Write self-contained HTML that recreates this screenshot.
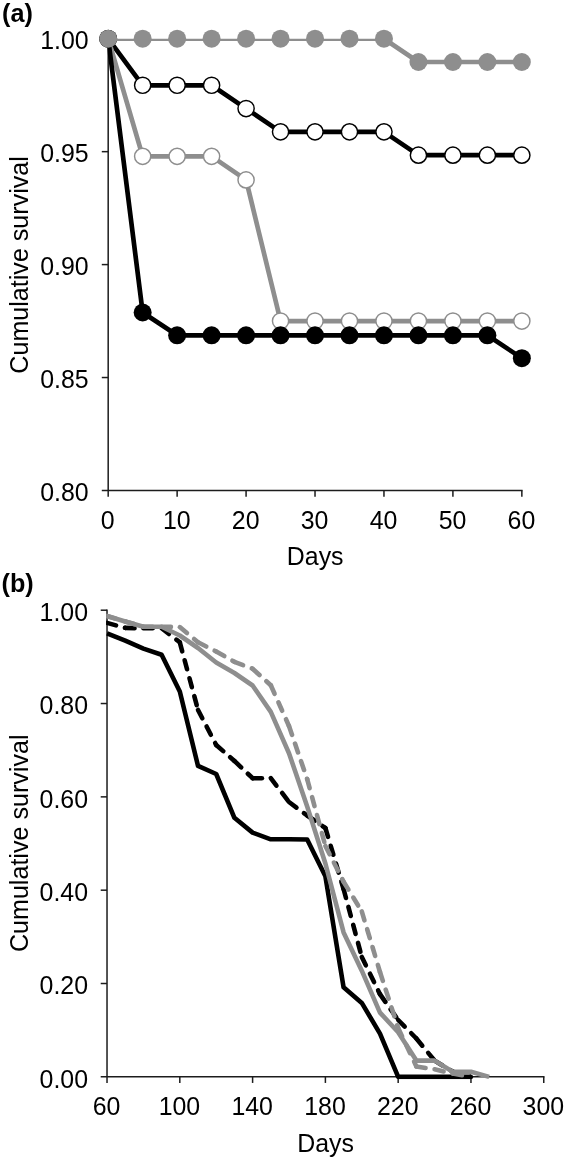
<!DOCTYPE html>
<html><head><meta charset="utf-8"><title>Cumulative survival</title>
<style>html,body{margin:0;padding:0;background:#fff;}svg{display:block;filter:grayscale(1);}text{font-family:"Liberation Sans",sans-serif;fill:#000;}</style></head><body>
<svg width="566" height="1161" viewBox="0 0 566 1161">
<rect width="566" height="1161" fill="#fff"/>
<defs><clipPath id="clipA"><rect x="107.39" y="38.72" width="470" height="470"/></clipPath>
<clipPath id="clipB"><rect x="106.12" y="605.20" width="470" height="474.04"/></clipPath></defs>
<g stroke="#1c1c1c" stroke-width="1.5" fill="none">
<line x1="108.19" y1="38.72" x2="108.19" y2="496.67"/>
<line x1="101.79" y1="490.47" x2="522.60" y2="490.47"/>
<line x1="101.79" y1="151.66" x2="108.19" y2="151.66"/>
<line x1="101.79" y1="264.59" x2="108.19" y2="264.59"/>
<line x1="101.79" y1="377.53" x2="108.19" y2="377.53"/>
<line x1="177.13" y1="490.47" x2="177.13" y2="496.67"/>
<line x1="246.08" y1="490.47" x2="246.08" y2="496.67"/>
<line x1="315.02" y1="490.47" x2="315.02" y2="496.67"/>
<line x1="383.96" y1="490.47" x2="383.96" y2="496.67"/>
<line x1="452.91" y1="490.47" x2="452.91" y2="496.67"/>
<line x1="521.85" y1="490.47" x2="521.85" y2="496.67"/>
</g>
<g font-size="24.9">
<text x="88.6" y="49.12" text-anchor="end">1.00</text>
<text x="88.6" y="162.06" text-anchor="end">0.95</text>
<text x="88.6" y="274.99" text-anchor="end">0.90</text>
<text x="88.6" y="387.93" text-anchor="end">0.85</text>
<text x="88.6" y="500.87" text-anchor="end">0.80</text>
<text x="107.79" y="528.8" text-anchor="middle">0</text>
<text x="176.73" y="528.8" text-anchor="middle">10</text>
<text x="245.68" y="528.8" text-anchor="middle">20</text>
<text x="314.62" y="528.8" text-anchor="middle">30</text>
<text x="383.56" y="528.8" text-anchor="middle">40</text>
<text x="452.51" y="528.8" text-anchor="middle">50</text>
<text x="521.45" y="528.8" text-anchor="middle">60</text>
<text x="315.2" y="565" text-anchor="middle">Days</text>
<text transform="translate(28,264.9) rotate(-90)" text-anchor="middle" font-size="25.1">Cumulative survival</text>
</g>
<text x="2.0" y="21.9" font-size="25.2" font-weight="bold">(a)</text>
<polyline clip-path="url(#clipA)" points="108.19,38.72 142.66,85.29 177.13,85.29 211.61,85.29 246.08,108.58 280.55,131.86 315.02,131.86 349.49,131.86 383.96,131.86 418.44,155.15 452.91,155.15 487.38,155.15 521.85,155.15" fill="none" stroke="#000" stroke-width="4.7" stroke-linejoin="round"/>
<circle cx="108.19" cy="38.72" r="8.1" fill="#fff" stroke="#000" stroke-width="1.45"/>
<circle cx="142.66" cy="85.29" r="8.1" fill="#fff" stroke="#000" stroke-width="1.45"/>
<circle cx="177.13" cy="85.29" r="8.1" fill="#fff" stroke="#000" stroke-width="1.45"/>
<circle cx="211.61" cy="85.29" r="8.1" fill="#fff" stroke="#000" stroke-width="1.45"/>
<circle cx="246.08" cy="108.58" r="8.1" fill="#fff" stroke="#000" stroke-width="1.45"/>
<circle cx="280.55" cy="131.86" r="8.1" fill="#fff" stroke="#000" stroke-width="1.45"/>
<circle cx="315.02" cy="131.86" r="8.1" fill="#fff" stroke="#000" stroke-width="1.45"/>
<circle cx="349.49" cy="131.86" r="8.1" fill="#fff" stroke="#000" stroke-width="1.45"/>
<circle cx="383.96" cy="131.86" r="8.1" fill="#fff" stroke="#000" stroke-width="1.45"/>
<circle cx="418.44" cy="155.15" r="8.1" fill="#fff" stroke="#000" stroke-width="1.45"/>
<circle cx="452.91" cy="155.15" r="8.1" fill="#fff" stroke="#000" stroke-width="1.45"/>
<circle cx="487.38" cy="155.15" r="8.1" fill="#fff" stroke="#000" stroke-width="1.45"/>
<circle cx="521.85" cy="155.15" r="8.1" fill="#fff" stroke="#000" stroke-width="1.45"/>
<polyline clip-path="url(#clipA)" points="108.19,38.72 142.66,156.36 177.13,156.36 211.61,156.36 246.08,179.89 280.55,321.06 315.02,321.06 349.49,321.06 383.96,321.06 418.44,321.06 452.91,321.06 487.38,321.06 521.85,321.06" fill="none" stroke="#8e8e8e" stroke-width="4.7" stroke-linejoin="round"/>
<circle cx="108.19" cy="38.72" r="8.1" fill="#fff" stroke="#8e8e8e" stroke-width="1.45"/>
<circle cx="142.66" cy="156.36" r="8.1" fill="#fff" stroke="#8e8e8e" stroke-width="1.45"/>
<circle cx="177.13" cy="156.36" r="8.1" fill="#fff" stroke="#8e8e8e" stroke-width="1.45"/>
<circle cx="211.61" cy="156.36" r="8.1" fill="#fff" stroke="#8e8e8e" stroke-width="1.45"/>
<circle cx="246.08" cy="179.89" r="8.1" fill="#fff" stroke="#8e8e8e" stroke-width="1.45"/>
<circle cx="280.55" cy="321.06" r="8.1" fill="#fff" stroke="#8e8e8e" stroke-width="1.45"/>
<circle cx="315.02" cy="321.06" r="8.1" fill="#fff" stroke="#8e8e8e" stroke-width="1.45"/>
<circle cx="349.49" cy="321.06" r="8.1" fill="#fff" stroke="#8e8e8e" stroke-width="1.45"/>
<circle cx="383.96" cy="321.06" r="8.1" fill="#fff" stroke="#8e8e8e" stroke-width="1.45"/>
<circle cx="418.44" cy="321.06" r="8.1" fill="#fff" stroke="#8e8e8e" stroke-width="1.45"/>
<circle cx="452.91" cy="321.06" r="8.1" fill="#fff" stroke="#8e8e8e" stroke-width="1.45"/>
<circle cx="487.38" cy="321.06" r="8.1" fill="#fff" stroke="#8e8e8e" stroke-width="1.45"/>
<circle cx="521.85" cy="321.06" r="8.1" fill="#fff" stroke="#8e8e8e" stroke-width="1.45"/>
<polyline clip-path="url(#clipA)" points="108.19,38.72 142.66,312.51 177.13,335.32 211.61,335.32 246.08,335.32 280.55,335.32 315.02,335.32 349.49,335.32 383.96,335.32 418.44,335.32 452.91,335.32 487.38,335.32 521.85,358.14" fill="none" stroke="#000" stroke-width="4.7" stroke-linejoin="round"/>
<circle cx="108.19" cy="38.72" r="9.0" fill="#000"/>
<circle cx="142.66" cy="312.51" r="9.0" fill="#000"/>
<circle cx="177.13" cy="335.32" r="9.0" fill="#000"/>
<circle cx="211.61" cy="335.32" r="9.0" fill="#000"/>
<circle cx="246.08" cy="335.32" r="9.0" fill="#000"/>
<circle cx="280.55" cy="335.32" r="9.0" fill="#000"/>
<circle cx="315.02" cy="335.32" r="9.0" fill="#000"/>
<circle cx="349.49" cy="335.32" r="9.0" fill="#000"/>
<circle cx="383.96" cy="335.32" r="9.0" fill="#000"/>
<circle cx="418.44" cy="335.32" r="9.0" fill="#000"/>
<circle cx="452.91" cy="335.32" r="9.0" fill="#000"/>
<circle cx="487.38" cy="335.32" r="9.0" fill="#000"/>
<circle cx="521.85" cy="358.14" r="9.0" fill="#000"/>
<polyline clip-path="url(#clipA)" points="108.19,38.72 142.66,38.72 177.13,38.72 211.61,38.72 246.08,38.72 280.55,38.72 315.02,38.72 349.49,38.72 383.96,38.72 418.44,62.01 452.91,62.01 487.38,62.01 521.85,62.01" fill="none" stroke="#8e8e8e" stroke-width="4.7" stroke-linejoin="round"/>
<circle cx="108.19" cy="38.72" r="9.0" fill="#8e8e8e"/>
<circle cx="142.66" cy="38.72" r="9.0" fill="#8e8e8e"/>
<circle cx="177.13" cy="38.72" r="9.0" fill="#8e8e8e"/>
<circle cx="211.61" cy="38.72" r="9.0" fill="#8e8e8e"/>
<circle cx="246.08" cy="38.72" r="9.0" fill="#8e8e8e"/>
<circle cx="280.55" cy="38.72" r="9.0" fill="#8e8e8e"/>
<circle cx="315.02" cy="38.72" r="9.0" fill="#8e8e8e"/>
<circle cx="349.49" cy="38.72" r="9.0" fill="#8e8e8e"/>
<circle cx="383.96" cy="38.72" r="9.0" fill="#8e8e8e"/>
<circle cx="418.44" cy="62.01" r="9.0" fill="#8e8e8e"/>
<circle cx="452.91" cy="62.01" r="9.0" fill="#8e8e8e"/>
<circle cx="487.38" cy="62.01" r="9.0" fill="#8e8e8e"/>
<circle cx="521.85" cy="62.01" r="9.0" fill="#8e8e8e"/>
<g stroke="#1c1c1c" stroke-width="1.5" fill="none">
<line x1="107.02" y1="609.45" x2="107.02" y2="1082.94"/>
<line x1="100.72" y1="1076.84" x2="544.50" y2="1076.84"/>
<line x1="100.72" y1="610.20" x2="107.02" y2="610.20"/>
<line x1="100.72" y1="703.53" x2="107.02" y2="703.53"/>
<line x1="100.72" y1="796.86" x2="107.02" y2="796.86"/>
<line x1="100.72" y1="890.18" x2="107.02" y2="890.18"/>
<line x1="100.72" y1="983.51" x2="107.02" y2="983.51"/>
<line x1="179.81" y1="1076.84" x2="179.81" y2="1082.94"/>
<line x1="252.60" y1="1076.84" x2="252.60" y2="1082.94"/>
<line x1="325.39" y1="1076.84" x2="325.39" y2="1082.94"/>
<line x1="398.17" y1="1076.84" x2="398.17" y2="1082.94"/>
<line x1="470.96" y1="1076.84" x2="470.96" y2="1082.94"/>
<line x1="543.75" y1="1076.84" x2="543.75" y2="1082.94"/>
</g>
<g font-size="24.9">
<text x="88.0" y="621.00" text-anchor="end">1.00</text>
<text x="88.0" y="714.33" text-anchor="end">0.80</text>
<text x="88.0" y="807.66" text-anchor="end">0.60</text>
<text x="88.0" y="900.98" text-anchor="end">0.40</text>
<text x="88.0" y="994.31" text-anchor="end">0.20</text>
<text x="88.0" y="1087.64" text-anchor="end">0.00</text>
<text x="106.62" y="1114.7" text-anchor="middle">60</text>
<text x="179.41" y="1114.7" text-anchor="middle">100</text>
<text x="252.20" y="1114.7" text-anchor="middle">140</text>
<text x="324.99" y="1114.7" text-anchor="middle">180</text>
<text x="397.77" y="1114.7" text-anchor="middle">220</text>
<text x="470.56" y="1114.7" text-anchor="middle">260</text>
<text x="543.35" y="1114.7" text-anchor="middle">300</text>
<text x="325.6" y="1151.8" text-anchor="middle">Days</text>
<text transform="translate(27.8,843.3) rotate(-90)" text-anchor="middle" font-size="25.1">Cumulative survival</text>
</g>
<text x="1.6" y="591.7" font-size="25.2" font-weight="bold">(b)</text>
<polyline clip-path="url(#clipB)" points="107.02,633.30 125.22,640.70 143.41,648.60 161.61,654.80 179.81,691.50 198.01,765.90 216.20,774.00 234.40,817.80 252.60,832.60 270.79,839.30 288.99,839.30 307.19,839.50 325.39,876.30 343.58,987.30 361.78,1002.90 379.98,1033.60 398.17,1076.84 416.37,1076.84 434.57,1076.84 452.76,1076.84 470.96,1076.84" fill="none" stroke="#000" stroke-width="4.6" stroke-linejoin="round"/>
<g clip-path="url(#clipB)" fill="none" stroke="#000" stroke-width="4.6" stroke-linecap="round" stroke-dasharray="9.3 9.3">
<line x1="107.02" y1="622.90" x2="125.22" y2="627.90"/>
<line x1="125.22" y1="627.90" x2="143.41" y2="628.30"/>
<line x1="143.41" y1="628.30" x2="161.61" y2="628.30"/>
<line x1="161.61" y1="628.30" x2="179.81" y2="642.30"/>
<line x1="179.81" y1="642.30" x2="198.01" y2="710.00"/>
<line x1="198.01" y1="710.00" x2="216.20" y2="745.00"/>
<line x1="216.20" y1="745.00" x2="234.40" y2="760.90"/>
<line x1="234.40" y1="760.90" x2="252.60" y2="778.20"/>
<line x1="252.60" y1="778.20" x2="270.79" y2="778.20"/>
<line x1="270.79" y1="778.20" x2="288.99" y2="802.00"/>
<line x1="288.99" y1="802.00" x2="307.19" y2="815.50"/>
<line x1="307.19" y1="815.50" x2="325.39" y2="828.00"/>
<line x1="325.39" y1="828.00" x2="343.58" y2="889.00"/>
<line x1="343.58" y1="889.00" x2="361.78" y2="957.00"/>
<line x1="361.78" y1="957.00" x2="379.98" y2="994.20"/>
<line x1="379.98" y1="994.20" x2="398.17" y2="1020.00"/>
<line x1="398.17" y1="1020.00" x2="416.37" y2="1038.50"/>
<line x1="416.37" y1="1038.50" x2="434.57" y2="1060.60"/>
<line x1="434.57" y1="1060.60" x2="452.76" y2="1071.70"/>
<line x1="452.76" y1="1071.70" x2="470.96" y2="1076.84"/>
</g>
<g clip-path="url(#clipB)" fill="none" stroke="#8e8e8e" stroke-width="4.6" stroke-linecap="round" stroke-dasharray="9.3 9.3">
<line x1="107.02" y1="616.00" x2="125.22" y2="621.50"/>
<line x1="125.22" y1="621.50" x2="143.41" y2="626.70"/>
<line x1="143.41" y1="626.70" x2="161.61" y2="626.70"/>
<line x1="161.61" y1="626.70" x2="179.81" y2="627.10"/>
<line x1="179.81" y1="627.10" x2="198.01" y2="642.30"/>
<line x1="198.01" y1="642.30" x2="216.20" y2="651.50"/>
<line x1="216.20" y1="651.50" x2="234.40" y2="661.80"/>
<line x1="234.40" y1="661.80" x2="252.60" y2="668.80"/>
<line x1="252.60" y1="668.80" x2="270.79" y2="685.30"/>
<line x1="270.79" y1="685.30" x2="288.99" y2="726.00"/>
<line x1="288.99" y1="726.00" x2="307.19" y2="779.20"/>
<line x1="307.19" y1="779.20" x2="325.39" y2="846.00"/>
<line x1="325.39" y1="846.00" x2="343.58" y2="881.70"/>
<line x1="343.58" y1="881.70" x2="361.78" y2="911.40"/>
<line x1="361.78" y1="911.40" x2="379.98" y2="972.00"/>
<line x1="379.98" y1="972.00" x2="398.17" y2="1028.00"/>
<line x1="398.17" y1="1028.00" x2="416.37" y2="1066.50"/>
<line x1="416.37" y1="1066.50" x2="434.57" y2="1069.30"/>
<line x1="434.57" y1="1069.30" x2="452.76" y2="1073.60"/>
<line x1="452.76" y1="1073.60" x2="470.96" y2="1076.84"/>
</g>
<polyline clip-path="url(#clipB)" points="107.02,616.00 125.22,621.50 143.41,626.70 161.61,626.70 179.81,635.50 198.01,648.00 216.20,662.50 234.40,673.00 252.60,685.50 270.79,711.90 288.99,753.20 307.19,806.40 325.39,863.50 343.58,932.40 361.78,970.70 379.98,1012.60 398.17,1032.20 416.37,1060.60 434.57,1060.60 452.76,1071.70 470.96,1071.70 489.16,1076.84" fill="none" stroke="#8e8e8e" stroke-width="4.6" stroke-linejoin="round"/>
</svg></body></html>
